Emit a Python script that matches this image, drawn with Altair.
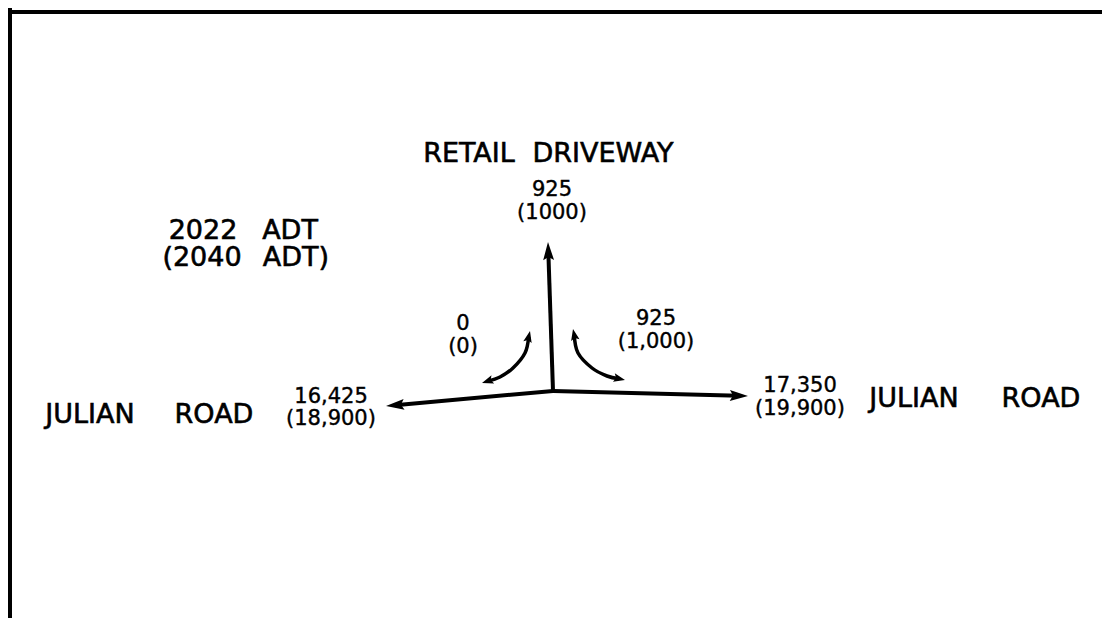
import math
import altair as alt
import pandas as pd

# ---------------- data ----------------
# Traffic volumes: 2022 ADT (top line) and 2040 ADT (bottom line, in parentheses)
movement = ["driveway_out", "left_turn_in", "right_turn_in", "julian_west", "julian_east"]
adt_2022 = ["925", "0", "925", "16,425", "17,350"]
adt_2040 = ["(1000)", "(0)", "(1,000)", "(18,900)", "(19,900)"]
vol_x = [552, 463, 656, 331, 800]
vol_y_2022 = [196, 330, 325, 403, 392]
vol_y_2040 = [219, 353, 348, 425, 415]

# Street names and legend words
name_words = ["RETAIL", "DRIVEWAY", "JULIAN", "ROAD", "JULIAN", "ROAD", "2022", "ADT", "(2040", "ADT)"]
name_x = [469, 603, 90, 214, 914, 1041, 203, 290, 202, 296]
name_y = [162, 162, 423, 423, 407, 407, 239, 239, 266, 266]

# Intersection legs (straight arrows) drawn from the intersection point
center_x, center_y = 553, 391
leg_names = ["driveway", "west", "east"]
leg_tip_x = [548, 386, 748]
leg_tip_y = [242, 406, 396]

# Curved turning-movement arrows (double headed)
left_curve_x = [530, 525, 513, 500, 482]
left_curve_y = [331, 353, 368, 377, 383]
right_curve_x = [573, 578, 592, 607, 625]
right_curve_y = [329, 353, 368, 376, 380]

# ---------------- build tables ----------------
W, H = 1094, 610
X0, Y0 = 8, 8
xs = alt.Scale(domain=[X0, X0 + W], nice=False, zero=False)
ys = alt.Scale(domain=[Y0, Y0 + H], nice=False, zero=False, reverse=True)
FONT = "DejaVu Sans"


def unit(dx, dy):
    n = math.hypot(dx, dy)
    return dx / n, dy / n


def angle_of(dx, dy):
    return math.degrees(math.atan2(dx, -dy)) % 360


line_rows = []
head_big = []
head_small = []
for name, tx, ty in zip(leg_names, leg_tip_x, leg_tip_y):
    ux, uy = unit(tx - center_x, ty - center_y)
    line_rows.append({"id": name, "o": 0, "x": center_x, "y": center_y})
    line_rows.append({"id": name, "o": 1, "x": tx - ux * 9, "y": ty - uy * 9})
    head_big.append({"x": tx, "y": ty, "a": angle_of(ux, uy)})

curve_rows = []
for cid, cx, cy in [("lt", left_curve_x, left_curve_y), ("rt", right_curve_x, right_curve_y)]:
    pts = list(zip(cx, cy))
    ux0, uy0 = unit(pts[0][0] - pts[1][0], pts[0][1] - pts[1][1])
    ux1, uy1 = unit(pts[-1][0] - pts[-2][0], pts[-1][1] - pts[-2][1])
    head_small.append({"x": pts[0][0], "y": pts[0][1], "a": angle_of(ux0, uy0)})
    head_small.append({"x": pts[-1][0], "y": pts[-1][1], "a": angle_of(ux1, uy1)})
    trimmed = list(pts)
    trimmed[0] = (pts[0][0] - ux0 * 6, pts[0][1] - uy0 * 6)
    trimmed[-1] = (pts[-1][0] - ux1 * 6, pts[-1][1] - uy1 * 6)
    for i, (px, py) in enumerate(trimmed):
        curve_rows.append({"id": cid, "o": i, "x": px, "y": py})

vol_rows = []
for m, a, b, x, y1, y2 in zip(movement, adt_2022, adt_2040, vol_x, vol_y_2022, vol_y_2040):
    vol_rows.append({"t": a, "x": x, "y": y1})
    vol_rows.append({"t": b, "x": x, "y": y2})

name_df = pd.DataFrame({"t": name_words, "x": name_x, "y": name_y})
frame_df = pd.DataFrame({"id": ["top", "top", "left", "left"], "o": [0, 1, 0, 1],
                         "x": [X0, X0 + W, 10, 10], "y": [12, 12, 10, Y0 + H]})

X = alt.X("x:Q", scale=xs, axis=None)
Y = alt.Y("y:Q", scale=ys, axis=None)

frame = alt.Chart(frame_df).mark_line(color="black", strokeWidth=4, strokeCap="square").encode(
    x=X, y=Y, detail="id:N", order="o:Q")

legs = alt.Chart(pd.DataFrame(line_rows)).mark_line(color="black", strokeWidth=4, strokeCap="butt").encode(
    x=X, y=Y, detail="id:N", order="o:Q")

curves = alt.Chart(pd.DataFrame(curve_rows)).mark_line(
    color="black", strokeWidth=3.5, strokeCap="butt", interpolate="cardinal").encode(
    x=X, y=Y, detail="id:N", order="o:Q")

big_shape = "M0,0 L0.6,2 L0,1.65 L-0.6,2 Z"
small_shape = "M0,0 L0.75,2 L0,1.6 L-0.75,2 Z"

heads_big = alt.Chart(pd.DataFrame(head_big)).mark_point(
    shape=big_shape, filled=True, color="black", opacity=1, size=330, strokeWidth=0).encode(
    x=X, y=Y, angle=alt.Angle("a:Q", scale=None))

heads_small = alt.Chart(pd.DataFrame(head_small)).mark_point(
    shape=small_shape, filled=True, color="black", opacity=1, size=130, strokeWidth=0).encode(
    x=X, y=Y, angle=alt.Angle("a:Q", scale=None))

names = alt.Chart(name_df).mark_text(
    font=FONT, fontSize=27, color="black", stroke="black", strokeWidth=0.6,
    align="center", baseline="alphabetic").encode(x=X, y=Y, text="t:N")

vols = alt.Chart(pd.DataFrame(vol_rows)).mark_text(
    font=FONT, fontSize=21, color="black", stroke="black", strokeWidth=0.4,
    align="center", baseline="alphabetic").encode(x=X, y=Y, text="t:N")

chart = alt.layer(frame, legs, curves, heads_big, heads_small, names, vols).properties(
    width=W, height=H, padding=0, background="white",
    autosize=alt.AutoSizeParams(type="none"),
).configure_view(stroke=None)

chart.save("out.html", embed_options={"renderer": "svg", "actions": False})
